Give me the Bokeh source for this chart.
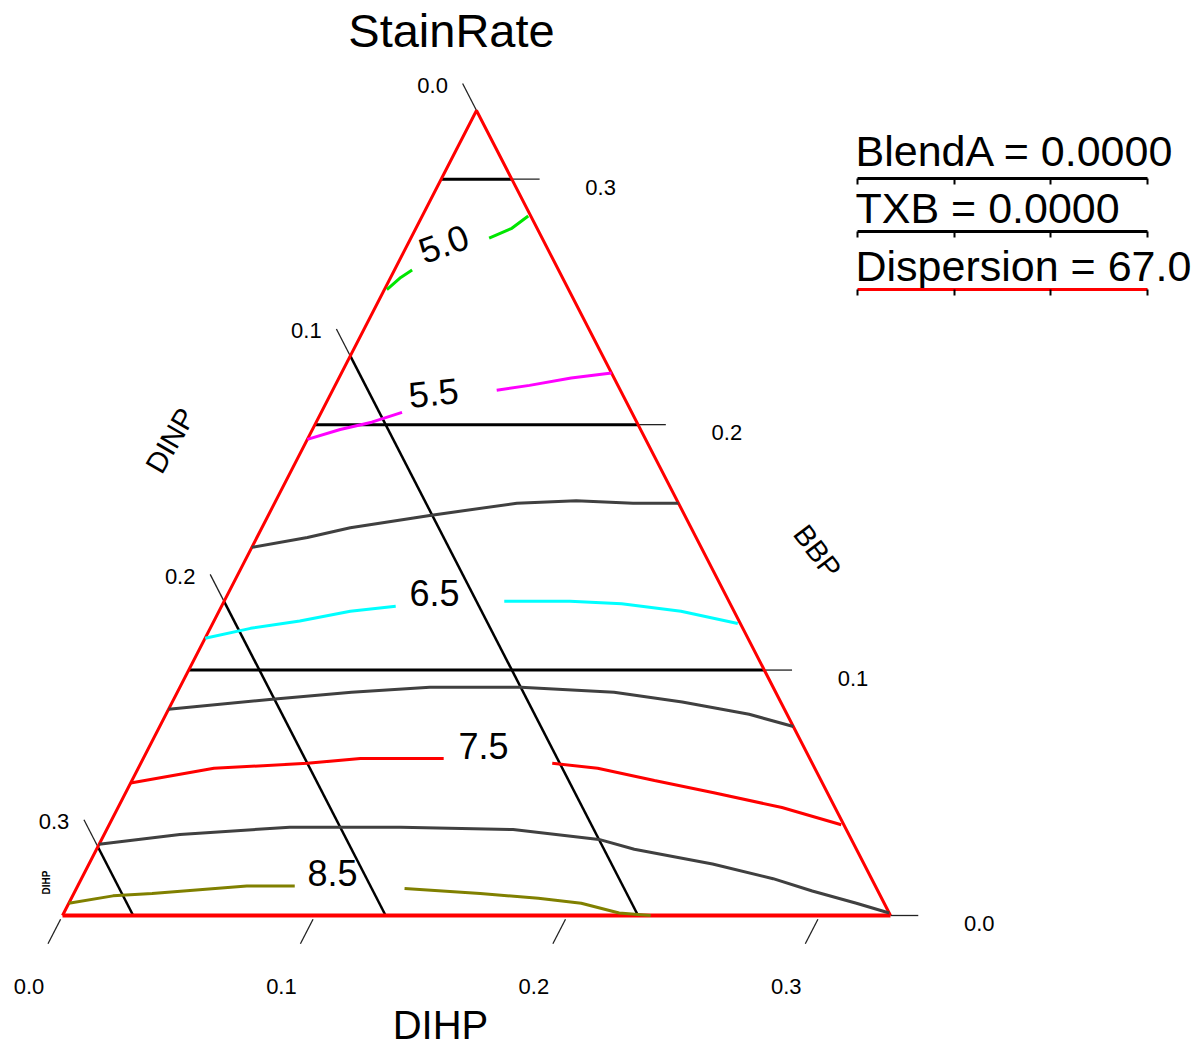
import numpy as np
from bokeh.plotting import figure
from bokeh.models import Range1d
from bokeh.core.properties import value
from bokeh.embed import file_html
from bokeh.resources import INLINE

# ---------------- data ----------------
TITLE = "StainRate"
BOTTOM_NAME = "DIHP"
LEFT_NAME = "DINP"
RIGHT_NAME = "BBP"
TOTAL = 0.328                      # sum of the three plotted components
TICK_VALUES = [0.0, 0.1, 0.2, 0.3]
TICK_LABELS = ["0.0", "0.1", "0.2", "0.3"]
GRID_VALUES = [0.1, 0.2, 0.3]
SETTINGS = ["BlendA = 0.0000", "TXB = 0.0000", "Dispersion = 67.0"]

LEVELS = ["5.0", "5.5", "6.0", "6.5", "7.0", "7.5", "8.0", "8.5"]
LABELED_LEVELS = ["5.0", "5.5", "6.5", "7.5", "8.5"]

# contour segments, given as DIHP and BBP fractions (DINP = TOTAL - DIHP - BBP)
C50_DIHP = [[0.001, 0.004, 0.007], [0.031, 0.038, 0.042]]
C50_BBP = [[0.255, 0.260, 0.263], [0.276, 0.280, 0.285]]

C55_DIHP = [[0.000, 0.011, 0.022, 0.032], [0.065, 0.077, 0.092, 0.107]]
C55_BBP = [[0.194, 0.198, 0.201, 0.205], [0.214, 0.216, 0.219, 0.221]]

C60_DIHP = [[0.000, 0.020, 0.035, 0.064, 0.096, 0.119, 0.142, 0.160]]
C60_BBP = [[0.150, 0.154, 0.158, 0.163, 0.168, 0.169, 0.168, 0.168]]

C65_DIHP = [[0.000, 0.016, 0.034, 0.052, 0.069], [0.111, 0.137, 0.158, 0.183, 0.208]]
C65_BBP = [[0.113, 0.117, 0.120, 0.124, 0.126], [0.128, 0.128, 0.127, 0.124, 0.119]]

C70_DIHP = [[0.000, 0.038, 0.069, 0.099, 0.135, 0.173, 0.202, 0.231, 0.251]]
C70_BBP = [[0.084, 0.088, 0.091, 0.093, 0.093, 0.091, 0.087, 0.082, 0.077]]

C75_DIHP = [[0.000, 0.030, 0.066, 0.086, 0.119], [0.163, 0.182, 0.207, 0.233, 0.263, 0.290]]
C75_BBP = [[0.054, 0.060, 0.062, 0.064, 0.064], [0.062, 0.060, 0.055, 0.050, 0.044, 0.037]]

C80_DIHP = [[0.000, 0.030, 0.072, 0.116, 0.161, 0.197, 0.213, 0.247, 0.274, 0.292, 0.312, 0.327]]
C80_BBP = [[0.029, 0.033, 0.036, 0.036, 0.035, 0.031, 0.027, 0.021, 0.015, 0.010, 0.005, 0.001]]

C85_DIHP = [[0.000, 0.016, 0.031, 0.067, 0.086], [0.130, 0.161, 0.185, 0.203, 0.220, 0.233]]
C85_BBP = [[0.005, 0.008, 0.009, 0.012, 0.012], [0.011, 0.009, 0.007, 0.005, 0.001, 0.000]]

CONTOURS = {
    "5.0": (C50_DIHP, C50_BBP), "5.5": (C55_DIHP, C55_BBP),
    "6.0": (C60_DIHP, C60_BBP), "6.5": (C65_DIHP, C65_BBP),
    "7.0": (C70_DIHP, C70_BBP), "7.5": (C75_DIHP, C75_BBP),
    "8.0": (C80_DIHP, C80_BBP), "8.5": (C85_DIHP, C85_BBP),
}

# ---------------- style / layout ----------------
FONT = "Liberation Sans"
LEVEL_COLORS = {"5.0": "#00e600", "5.5": "#ff00ff", "6.0": "#404040", "6.5": "#00ffff",
                "7.0": "#404040", "7.5": "#ff0000", "8.0": "#404040", "8.5": "#808000"}
# label placement in screen pixels (center x, center y, angle deg)
LABEL_PLACE = {"5.0": (443, 243, 20), "5.5": (433, 392, 6), "6.5": (434, 592, 0),
               "7.5": (483, 745, 0), "8.5": (332, 872, 0)}

W, H = 1202, 1045
PAGE = 0
# triangle placement on the picture (pixels): bottom-left x, bottom-right x, bottom y, top y
X0P, X1P, Y0P, YTP = 62, 890, 915, 110
KX = TOTAL / (X1P - X0P)
KY = TOTAL / (Y0P - YTP)
TICK = 0.011


def pix(xp, yp):
    return (xp - X0P) * KX, (Y0P - yp) * KY


def to_xy(dihp, bbp):
    dihp = np.asarray(dihp, dtype=float)
    bbp = np.asarray(bbp, dtype=float)
    return dihp + bbp / 2.0, bbp


def off(x, y, dxp, dyp_down):
    return x + dxp * KX, y - dyp_down * KY


p = figure(width=W, height=H,
           x_range=Range1d(pix(PAGE, 0)[0], pix(PAGE + W, 0)[0]),
           y_range=Range1d(pix(0, PAGE + H)[1], pix(0, PAGE)[1]),
           output_backend="svg", toolbar_location=None, min_border=0,
           x_axis_location=None, y_axis_location=None,
           background_fill_color="white", border_fill_color="white",
           outline_line_color=None)
p.grid.grid_line_color = None


def txt(x, y, s, size, align="center", baseline="middle", angle=0, style="normal", color="black"):
    p.text(x=[x], y=[y], text=[s], text_font=value(FONT), text_font_size=size,
           text_align=align, text_baseline=baseline, angle=angle, angle_units="deg",
           text_font_style=style, text_color=color)


# BBP grid lines (horizontal) and right-hand ticks
for b in GRID_VALUES:
    xs, ys = to_xy([0.0, TOTAL - b], [b, b])
    p.line(xs, ys, line_color="black", line_width=3)
for b, lab in zip(TICK_VALUES, TICK_LABELS):
    xs, ys = to_xy([TOTAL - b, TOTAL - b + TICK], [b, b])
    p.line(xs, ys, line_color="#222222", line_width=1.3)
    lx, ly = off(xs[1], ys[1], 61, 8)
    txt(lx, ly, lab, "22px")

# DINP grid lines (parallel to right edge) and left ticks
for d in GRID_VALUES:
    xs, ys = to_xy([0.0, TOTAL - d], [TOTAL - d, 0.0])
    p.line(xs, ys, line_color="black", line_width=2.5)
for d, lab in zip(TICK_VALUES, TICK_LABELS):
    xs, ys = to_xy([0.0, -TICK], [TOTAL - d, TOTAL - d + TICK])
    p.line(xs, ys, line_color="#222222", line_width=1.3)
    lx, ly = off(xs[1], ys[1], -30, 2)
    txt(lx, ly, lab, "22px")

# DIHP ticks along the bottom
for d, lab in zip(TICK_VALUES, TICK_LABELS):
    xs, ys = to_xy([d, d], [-0.0015, -0.0115])
    p.line(xs, ys, line_color="#222222", line_width=1.3)
    lx, ly = off(xs[1], ys[1], -19, 43)
    txt(lx, ly, lab, "22px")

# triangle edges
bx, by = to_xy([0.0, TOTAL], [0.0, 0.0])
p.line(bx, by, line_color="#ff0000", line_width=4)
sx, sy = to_xy([0.0, 0.0, TOTAL], [0.0, TOTAL, 0.0])
p.line(sx, sy, line_color="#ff0000", line_width=3)

# contours
for lev in LEVELS:
    dl, bl = CONTOURS[lev]
    for dseg, bseg in zip(dl, bl):
        xs, ys = to_xy(dseg, bseg)
        p.line(xs, ys, line_color=LEVEL_COLORS[lev], line_width=3)

for lev in LABELED_LEVELS:
    cx, cy, ang = LABEL_PLACE[lev]
    x, y = pix(cx, cy)
    txt(x, y, lev, "36px", angle=ang)

# titles
x, y = pix(451, 30)
txt(x, y, TITLE, "47px")
x, y = pix(440, 1024)
txt(x, y, BOTTOM_NAME, "40px")
x, y = pix(170, 440)
txt(x, y, LEFT_NAME, "29px", angle=60)
x, y = pix(817, 551)
txt(x, y, RIGHT_NAME, "29px", angle=-53)
x, y = pix(46, 882)
txt(x, y, BOTTOM_NAME, "10px", angle=90, style="bold")

# settings panel (slider-like readouts)
SET_MID = [150, 207, 265]
SET_LINE = [178, 231, 289]
SET_COLOR = ["black", "black", "#ff0000"]
SET_X0, SET_X1 = 857, 1147
SET_TICKS = [857, 954, 1050, 1147]
for s, ym, yl, col in zip(SETTINGS, SET_MID, SET_LINE, SET_COLOR):
    x, y = pix(855, ym)
    txt(x, y, s, "43px", align="left")
    (xa, ya), (xb, yb2) = pix(SET_X0, yl), pix(SET_X1, yl)
    p.line([xa, xb], [ya, yb2], line_color=col, line_width=3)
    for tx in SET_TICKS:
        (ta, tya), (tb, tyb) = pix(tx, yl), pix(tx, yl + 6)
        p.line([ta, tb], [tya, tyb], line_color="black", line_width=2)

open("out.html", "w").write(file_html(p, INLINE))
